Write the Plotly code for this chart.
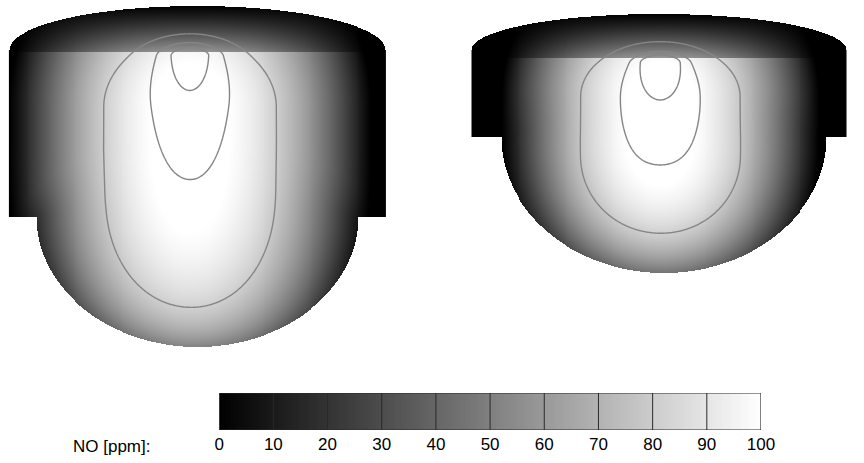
import numpy as np
import plotly.graph_objects as go

# NO concentration scale (ppm)
legend_ticks = [0, 10, 20, 30, 40, 50, 60, 70, 80, 90, 100]

# Chamber geometry in grid units (y grows downward), [left, right]
bore_radius = [192, 191]
cap_center_y = [50, 50]
cap_height = [44, 36]
deck_y = [52, 58]
liner_bottom_y = [217, 137]
bowl_half_width = [164, 166]
bowl_offset = [0, 5]
bowl_depth = [130, 136]
axis_px = [196.5, 668.5]

# NO field: elongated plume hanging below the injector
no_peak = [105, 105]
plume_x = [-7.5, 1.5]
no_half_width = [185, 162]
no_top_scale = [200, 160]
no_bottom_scale = [393, 225]
plume_span = [[107, 149], [97, 142]]

# iso-line field: broad envelope + narrow jet core
iso_levels = [90, 120, 150]
env_span = [[107, 191], [97, 157]]
env_peak = [112, 112]
env_power = 3.5
env_half_width = [137, 127]
env_top_scale = [108, 85]
env_bottom_scale = [199, 128]
jet_peak = [70.9, 90.9]
jet_y = [55, 62]
jet_decay = [57.3, 43.6]
jet_rise = [12.1, 8.6]
jet_width = [32, 28]
jet_width_ref_y = [65, 75]
jet_width_growth = [0.14, 0.31]

# head (cap) shading and near-wall cooling
cap_shade_at_deck = 0.6
wall_damping = 0.35
wall_layer = 25.0


def span_distance(Y, span, top_scale, bottom_scale):
    y1, y2 = span
    return np.where(Y < y1, (y1 - Y) / top_scale,
                    np.where(Y > y2, (Y - y2) / bottom_scale, 0.0))


def chamber(i):
    R = bore_radius[i]
    x = np.arange(-R, R + 1, dtype=float)
    y = np.arange(0, liner_bottom_y[i] + bowl_depth[i] + 3, dtype=float) + 0.5
    X, Y = np.meshgrid(x, y)
    cy, ch = cap_center_y[i], cap_height[i]
    yb, a, b = liner_bottom_y[i], bowl_half_width[i], bowl_depth[i]
    XB = X - bowl_offset[i]

    cap = (Y < cy) & ((X / R) ** 2 + ((Y - cy) / ch) ** 2 <= 1)
    liner = (Y >= cy) & (Y <= yb) & (np.abs(X) <= R)
    rb = np.sqrt((XB / a) ** 2 + ((Y - yb) / b) ** 2)
    bowl = (Y > yb) & (rb <= 1)
    inside = cap | liner | bowl

    # wall distance for near-wall cooling
    with np.errstate(divide="ignore", invalid="ignore"):
        d_side = np.where(Y <= yb, R - np.abs(X), np.inf)
        d_ledge = np.where((Y <= yb) & (np.abs(XB) > a), yb - Y, np.inf)
        d_corner = np.where(Y <= yb, np.sqrt((np.abs(XB) - a) ** 2 + (yb - Y) ** 2), np.inf)
        grad = np.sqrt((XB / a ** 2) ** 2 + ((Y - yb) / b ** 2) ** 2) / np.maximum(rb, 1e-6)
        d_bowl = np.where(Y > yb, (1 - rb) / np.maximum(grad, 1e-9), np.inf)
    dwall = np.clip(np.minimum.reduce([d_side, d_ledge, d_corner, d_bowl]), 0, None)
    damp = 1 - wall_damping * np.exp(-dwall / wall_layer)

    dx = X - plume_x[i]

    # NO concentration
    dy = span_distance(Y, plume_span[i], no_top_scale[i], no_bottom_scale[i])
    no = no_peak[i] * np.clip(1 - (dx / no_half_width[i]) ** 2 - dy ** 2, 0, None) * damp
    ytop = cy - ch
    shade = np.where(Y < deck_y[i],
                     cap_shade_at_deck * np.clip((Y - ytop) / (deck_y[i] - ytop), 0, 1), 1.0)
    shown = np.clip(no * shade, 0, 100)
    shown[~inside] = np.nan

    # iso-line field
    dy2 = span_distance(Y, env_span[i], env_top_scale[i], env_bottom_scale[i])
    d = np.sqrt((dx / env_half_width[i]) ** 2 + dy2 ** 2)
    env = env_peak[i] * np.exp(-d ** env_power)
    wx = np.maximum(jet_width[i] + jet_width_growth[i] * (Y - jet_width_ref_y[i]),
                    0.8 * jet_width[i])
    vert = np.where(Y >= jet_y[i], np.exp(-(Y - jet_y[i]) / jet_decay[i]),
                    np.exp(-((Y - jet_y[i]) / jet_rise[i]) ** 2))
    jet = jet_peak[i] * vert * np.exp(-(dx / wx) ** 2)
    iso = (env + jet) * damp
    iso[~inside] = np.nan
    return x, y, np.round(iso, 2), np.round(shown, 1)


gray = [[0, "rgb(0,0,0)"], [1, "rgb(255,255,255)"]]
fig = go.Figure()

for i, (xa, ya) in enumerate([("x", "y"), ("x2", "y2")]):
    x, y, iso, shown = chamber(i)
    fig.add_trace(go.Heatmap(x=x, y=y, z=shown, colorscale=gray, zmin=0, zmax=100,
                             showscale=False, hoverinfo="skip", xaxis=xa, yaxis=ya))
    fig.add_trace(go.Contour(x=x, y=y, z=iso, showscale=False, hoverinfo="skip",
                             contours=dict(start=iso_levels[0], end=iso_levels[-1],
                                           size=iso_levels[1] - iso_levels[0],
                                           coloring="lines"),
                             line=dict(color="#868686", width=1.4),
                             colorscale=[[0, "#868686"], [1, "#868686"]],
                             xaxis=xa, yaxis=ya))

# legend bar
bar_edges = np.linspace(legend_ticks[0], legend_ticks[-1], 201)
bar_vals = 0.5 * (bar_edges[:-1] + bar_edges[1:])
fig.add_trace(go.Heatmap(x=bar_edges, y=[0, 1], z=[bar_vals], colorscale=gray,
                         zmin=0, zmax=100, showscale=False, hoverinfo="skip",
                         xaxis="x3", yaxis="y3"))

shapes = []
for t in legend_ticks[1:-1]:
    shapes.append(dict(type="line", xref="x3", yref="y3", x0=t, x1=t, y0=0, y1=1,
                       line=dict(color="#2a2a2a", width=1)))
shapes.append(dict(type="rect", xref="x3", yref="y3", x0=legend_ticks[0], x1=legend_ticks[-1],
                   y0=0, y1=1, line=dict(color="#2a2a2a", width=1.2)))

# figure kept a few px shorter than the window so the page never scrolls
W, H = 864, 456
hidden = dict(visible=False, showgrid=False, zeroline=False)
font_family = "Liberation Sans, Arial, sans-serif"
fig.update_layout(
    width=W, height=H, autosize=False, margin=dict(l=0, r=0, t=0, b=0),
    paper_bgcolor="white", plot_bgcolor="rgba(0,0,0,0)", showlegend=False,
    shapes=shapes,
    xaxis=dict(domain=[0, 400 / W], range=[0 - axis_px[0], 400 - axis_px[0]], **hidden),
    yaxis=dict(domain=[(H - 360) / H, 1], range=[360, 0], **hidden),
    xaxis2=dict(domain=[464 / W, 1], range=[464 - axis_px[1], 864 - axis_px[1]], **hidden),
    yaxis2=dict(domain=[(H - 360) / H, 1], range=[360, 0], **hidden),
    xaxis3=dict(domain=[219 / W, 773 / W], range=[legend_ticks[0], legend_ticks[-1]],
                anchor="y3", side="bottom",
                tickvals=legend_ticks, ticktext=[str(t) for t in legend_ticks],
                ticks="", ticklabelstandoff=2, showgrid=False, zeroline=False, showline=False,
                tickfont=dict(family=font_family, size=17, color="black")),
    yaxis3=dict(domain=[(H - 430) / H, (H - 393) / H], range=[0, 1], anchor="x3", **hidden),
    annotations=[dict(text="NO [ppm]:", xref="paper", yref="paper", x=150 / W, y=(H - 446) / H,
                      xanchor="right", yanchor="middle", showarrow=False,
                      font=dict(family=font_family, size=17, color="black"))],
)

page_style = ("document.documentElement.style.margin = '0px';"
              "document.documentElement.style.overflow = 'hidden';"
              "document.body.style.margin = '0px';"
              "document.body.style.overflow = 'hidden';")
fig.write_html("out.html", config={"responsive": False}, post_script=page_style)
